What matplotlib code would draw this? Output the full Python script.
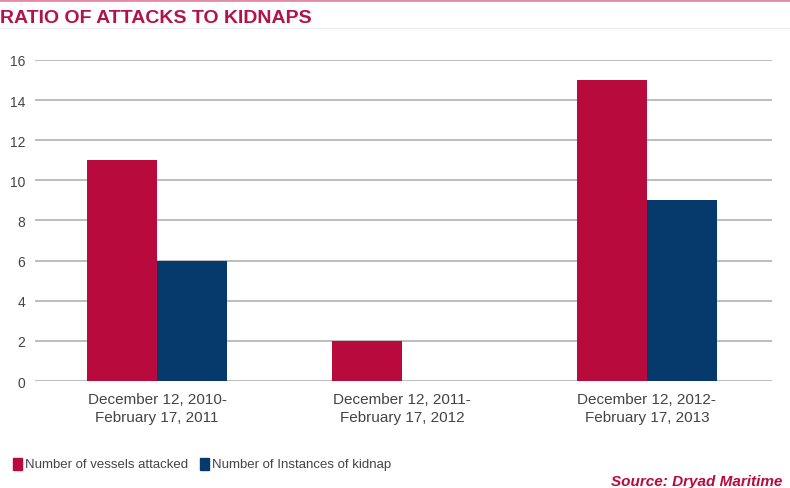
import numpy as np
import matplotlib.pyplot as plt
from matplotlib.patches import Rectangle

# --- DATA ---
periods = ["December 12, 2010-\nFebruary 17, 2011",
           "December 12, 2011-\nFebruary 17, 2012",
           "December 12, 2012-\nFebruary 17, 2013"]
vessels_attacked = [11, 2, 15]
kidnaps = [6, 0, 9]
y_ticks = [0, 2, 4, 6, 8, 10, 12, 14, 16]

RED = "#B80A3D"
BLUE = "#063A6C"
TEXT = "#444444"

plt.rcParams['font.family'] = ['Liberation Sans', 'DejaVu Sans']

fig = plt.figure(figsize=(7.9, 4.89), dpi=100)
ax = fig.add_axes([0.0443, 0.2188, 0.9327, 0.6565])

x = np.arange(len(periods))
w = 0.286
ax.bar(x - w / 2, vessels_attacked, w, color=RED, zorder=3)
ax.bar(x + w / 2, kidnaps, w, color=BLUE, zorder=3)

ax.set_xlim(-0.498, 2.51)
ax.set_ylim(0, 16)
ax.set_yticks(y_ticks)
ax.set_yticklabels([str(v) for v in y_ticks], fontsize=10, color=TEXT)
ax.set_xticks(x)
ax.set_xticklabels(periods, fontsize=11, color=TEXT, linespacing=1.35)
ax.tick_params(axis='both', length=0)
ax.tick_params(axis='y', pad=7)
ax.tick_params(axis='x', pad=8)
ax.grid(axis='y', color="#BDBDBD", linewidth=1.4, zorder=0)
for s in ax.spines.values():
    s.set_visible(False)

# --- TITLE & DECORATION ---
fig.text(0.0, 0.963, "RATIO OF ATTACKS TO KIDNAPS", fontsize=14, fontweight='bold',
         color="#B3124A", ha='left', va='center')
fig.add_artist(plt.Line2D([0, 1], [0.998, 0.998], color="#E38AA5", linewidth=2, transform=fig.transFigure))
fig.add_artist(plt.Line2D([0, 1], [0.94, 0.94], color="#EEEEEE", linewidth=0.8, transform=fig.transFigure))

# --- LEGEND ---
ly = 1 - 465 / 489
fig.add_artist(Rectangle((13 / 790, ly - 6 / 489), 9 / 790, 12 / 489, color=RED, transform=fig.transFigure))
t1 = fig.text(25 / 790, ly, "Number of vessels attacked", fontsize=9.5, color=TEXT, va='center')
fig.canvas.draw()
x2 = t1.get_window_extent().x1 / 790 + 12 / 790
fig.add_artist(Rectangle((x2, ly - 6 / 489), 9 / 790, 12 / 489, color=BLUE, transform=fig.transFigure))
fig.text(x2 + 12 / 790, ly, "Number of Instances of kidnap", fontsize=9.5, color=TEXT, va='center')

fig.text(611 / 790, 1 - 482 / 489, "Source: Dryad Maritime", fontsize=11, color=RED,
         fontweight='bold', fontstyle='italic', va='center')

fig.savefig("out.png", dpi=100)
